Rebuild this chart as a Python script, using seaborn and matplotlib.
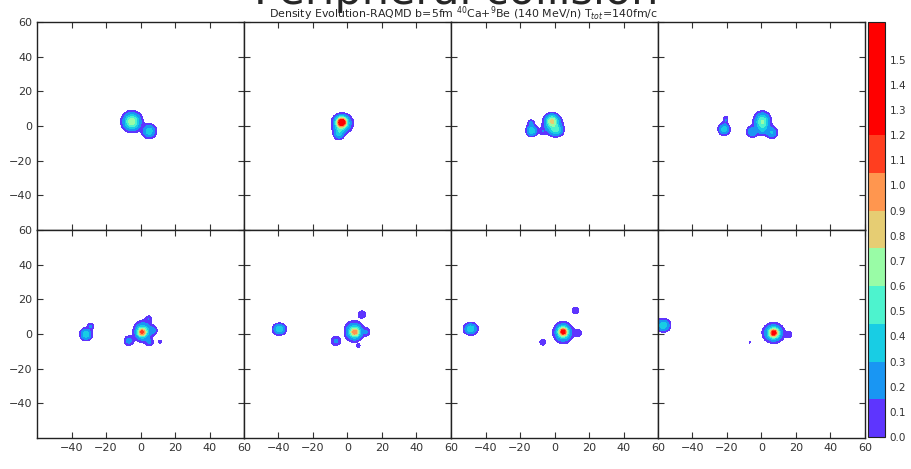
import numpy as np
import matplotlib
matplotlib.use("Agg")
import matplotlib.pyplot as plt
import seaborn as sns

# ---- data: fragment blobs (Gaussian density components) per time step ----
# each panel: centre x, centre y (fm), widths sx, sy (fm), peak density
blob_x = [
    [-5.0, 5.0],
    [-3.4, -3.0, -5.0],
    [-13.2, -13.6, -1.5, -1.0, 1.0, -7.0],
    [-21.7, -20.8, 0.5, -5.5, 6.0, 0.5],
    [-31.6, -29.0, 0.8, 1.5, 4.8, 5.3, 7.5, -6.8, 11.3],
    [-39.5, 4.3, 3.8, 11.0, 8.4, -6.7, 6.3],
    [-48.6, 5.0, 5.0, 13.5, 12.1, -6.8],
    [-57.0, 7.2, 7.0, 16.0, -6.7],
]
blob_y = [
    [2.5, -3.0],
    [2.2, 1.5, -4.0],
    [-2.7, 1.8, 3.0, 1.0, -2.5, -3.0],
    [-1.9, 3.5, 2.5, -3.4, -3.8, -2.5],
    [-0.2, 4.5, 1.0, 1.5, 8.8, -4.8, 2.2, -3.9, -4.4],
    [2.8, 1.0, 1.5, 1.2, 11.3, -4.0, -6.9],
    [3.0, 1.3, 0.8, 0.6, 13.5, -4.8],
    [5.0, 0.6, 0.6, -0.4, -4.8],
]
blob_sx = [
    [3.0, 2.3],
    [1.8, 3.2, 1.8],
    [1.9, 1.3, 2.2, 3.2, 2.4, 1.5],
    [1.9, 1.1, 2.6, 1.9, 2.0, 1.8],
    [2.0, 1.3, 1.6, 3.0, 1.3, 1.5, 1.6, 1.8, 1.0],
    [2.2, 1.7, 3.0, 1.6, 1.7, 1.9, 0.9],
    [2.3, 1.6, 3.0, 1.6, 1.6, 1.4],
    [2.4, 1.6, 3.3, 1.3, 0.6],
]
blob_sy = [
    [3.0, 2.3],
    [1.8, 3.0, 2.2],
    [1.9, 1.3, 2.2, 3.2, 2.0, 1.5],
    [1.9, 1.6, 3.0, 1.9, 2.0, 1.8],
    [2.0, 1.3, 1.6, 3.3, 1.3, 1.5, 1.6, 1.8, 1.0],
    [1.9, 1.7, 3.2, 1.6, 1.7, 1.9, 0.9],
    [2.0, 1.6, 3.2, 1.6, 1.6, 1.4],
    [2.1, 1.6, 3.0, 1.3, 0.6],
]
blob_peak = [
    [0.72, 0.40],
    [1.15, 0.50, 0.35],
    [0.42, 0.15, 0.55, 0.30, 0.38, 0.12],
    [0.40, 0.15, 0.62, 0.28, 0.30, 0.18],
    [0.42, 0.15, 0.70, 0.45, 0.13, 0.14, 0.15, 0.20, 0.10],
    [0.42, 0.60, 0.45, 0.14, 0.14, 0.17, 0.10],
    [0.42, 0.85, 0.50, 0.14, 0.13, 0.13],
    [0.42, 0.85, 0.50, 0.13, 0.08],
]

levels = [0.0, 0.15, 0.30, 0.45, 0.60, 0.75, 0.90, 1.05, 1.20, 1.65]
cbar_ticks = [0.0, 0.1, 0.2, 0.3, 0.4, 0.5, 0.6, 0.7, 0.8, 0.9, 1.0, 1.1, 1.2, 1.3, 1.4, 1.5]
axis_ticks = [-40, -20, 0, 20, 40, 60]

title_main = "Peripheral collision"
title_sub = (r"Density Evolution-RAQMD b=5fm $^{40}$Ca+$^{9}$Be (140 MeV/n) "
             r"T$_{tot}$=140fm/c")

# ---- style ----
sns.set_style("ticks")
plt.rcParams["font.family"] = ["DejaVu Sans"]
plt.rcParams["xtick.direction"] = "in"
plt.rcParams["ytick.direction"] = "in"

rainbow = sns.color_palette("rainbow", as_cmap=True)
band_pos = [0.07, 0.2, 0.3, 0.4, 0.55, 0.7, 0.8, 0.92, 1.0]
band_colors = [rainbow(p) for p in band_pos]

cutoff = 0.06
grid = np.linspace(-60, 60, 481)
X, Y = np.meshgrid(grid, grid)


def density(i):
    z = np.zeros_like(X)
    for cx, cy, sx, sy, a in zip(blob_x[i], blob_y[i], blob_sx[i],
                                 blob_sy[i], blob_peak[i]):
        z += a * np.exp(-((X - cx) ** 2 / (2 * sx ** 2) + (Y - cy) ** 2 / (2 * sy ** 2)))
    z = np.minimum(z, levels[-1] - 1e-3)
    return np.where(z < cutoff, np.nan, z)


W, H = 912, 469
fig = plt.figure(figsize=(W / 100, H / 100), dpi=100)

left_px, panel_w = 37, 207
top_px, panel_h = 22, 208

cs = None
for i in range(8):
    r, c = divmod(i, 4)
    x0 = (left_px + c * panel_w) / W
    y0 = 1 - (top_px + (r + 1) * panel_h) / H
    ax = fig.add_axes([x0, y0, panel_w / W, panel_h / H])
    cs = ax.contourf(X, Y, density(i), levels=levels, colors=band_colors)
    ax.set_xlim(-60, 60)
    ax.set_ylim(-60, 60)
    ax.set_xticks(axis_ticks)
    ax.set_yticks(axis_ticks)
    ax.tick_params(which="both", top=True, right=True, length=4, width=0.8,
                   labelsize=8, labelcolor="#333333", color="#333333")
    if r == 0:
        ax.set_xticklabels([])
    if c != 0:
        ax.set_yticklabels([])
    for s in ax.spines.values():
        s.set_color("#222222")
        s.set_linewidth(1.0)

cax = fig.add_axes([868 / W, 1 - 437 / H, 17 / W, 415 / H])
cb = fig.colorbar(cs, cax=cax, ticks=cbar_ticks, spacing="proportional")
cb.ax.tick_params(labelsize=7.5, length=4, width=0.8, direction="in",
                  labelcolor="#333333", color="#333333")
cb.ax.set_yticklabels([f"{t:.1f}" for t in cbar_ticks])
cb.outline.set_edgecolor("#222222")

fig.text(0.5, 1 - 4 / H, title_main, ha="center", va="baseline", fontsize=31)
fig.text(0.508, 1 - 14 / H, title_sub, ha="center", va="center", fontsize=7.9)

fig.savefig("out.png", dpi=100)
